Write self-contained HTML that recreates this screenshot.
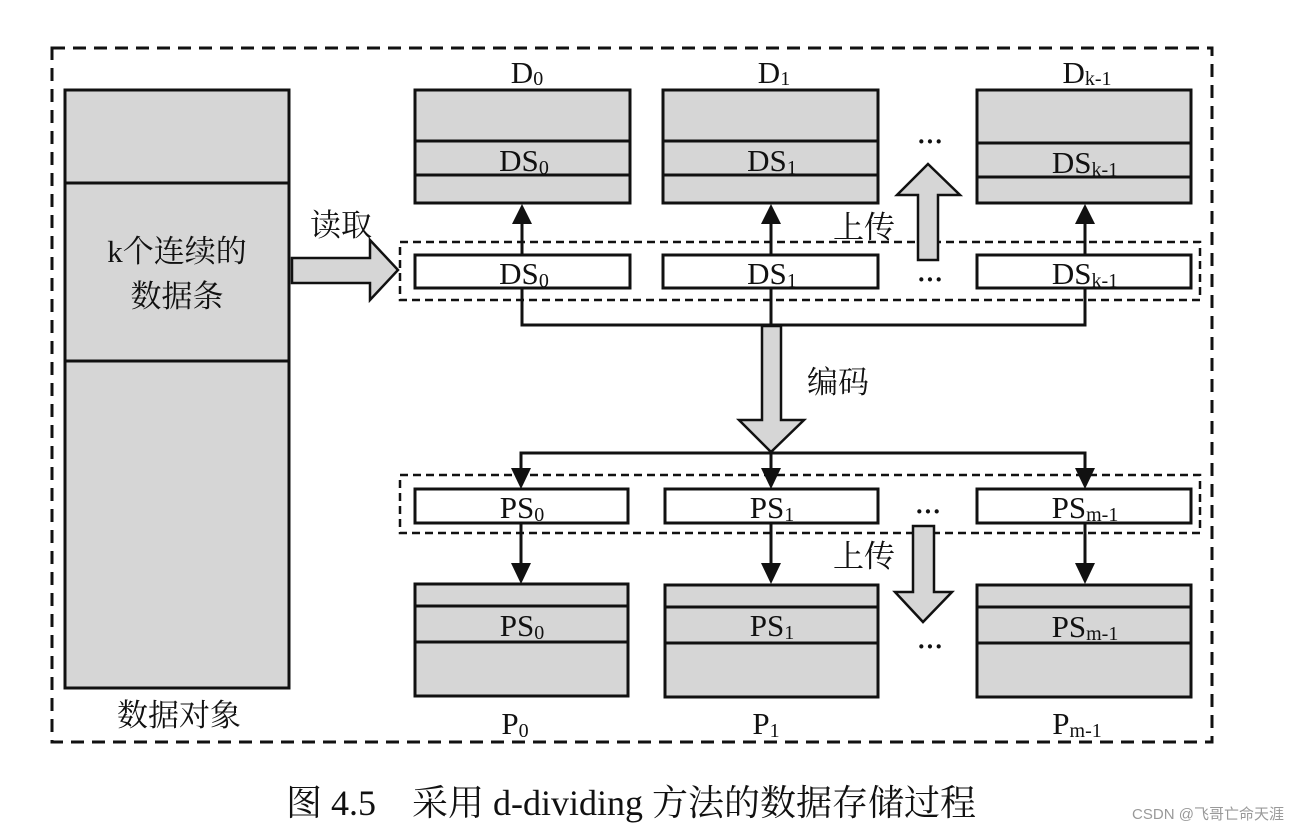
<!DOCTYPE html>
<html><head><meta charset="utf-8"><style>
html,body{margin:0;padding:0;background:#fff;}
svg{display:block;}
text{font-family:"Liberation Serif","Noto Serif CJK SC",serif;fill:#111;}
</style></head><body>
<svg width="1302" height="832" viewBox="0 0 1302 832" xmlns="http://www.w3.org/2000/svg">
<rect x="52" y="48" width="1160" height="694" fill="none" stroke="#111" stroke-width="3" stroke-dasharray="13,8"/>
<rect x="65" y="90" width="224" height="598" fill="#d6d6d6" stroke="#111" stroke-width="3"/>
<line x1="65" y1="183" x2="289" y2="183" stroke="#111" stroke-width="3"/>
<line x1="65" y1="361" x2="289" y2="361" stroke="#111" stroke-width="3"/>
<text x="177" y="262" font-size="31" text-anchor="middle">k个连续的</text>
<text x="177" y="307" font-size="31" text-anchor="middle">数据条</text>
<text x="179" y="726" font-size="31" text-anchor="middle">数据对象</text>
<polygon points="292,258 370,258 370,240 398,270 370,300 370,283 292,283" fill="#d6d6d6" stroke="#111" stroke-width="2.5"/>
<text x="341" y="236" font-size="31" text-anchor="middle">读取</text>
<rect x="400" y="242" width="800" height="58" fill="none" stroke="#111" stroke-width="2.5" stroke-dasharray="8,5"/>
<rect x="400" y="475" width="800" height="58" fill="none" stroke="#111" stroke-width="2.5" stroke-dasharray="8,5"/>
<g stroke="#111" stroke-width="3" fill="#d6d6d6">
<rect x="415" y="90" width="215" height="113"/><line x1="415" y1="141" x2="630" y2="141"/><line x1="415" y1="175" x2="630" y2="175"/>
<rect x="663" y="90" width="215" height="113"/><line x1="663" y1="141" x2="878" y2="141"/><line x1="663" y1="175" x2="878" y2="175"/>
<rect x="977" y="90" width="214" height="113"/><line x1="977" y1="143" x2="1191" y2="143"/><line x1="977" y1="177" x2="1191" y2="177"/>
</g>
<text x="527" y="83" font-size="31" text-anchor="middle">D<tspan font-size="20" dy="2">0</tspan></text>
<text x="774" y="83" font-size="31" text-anchor="middle">D<tspan font-size="20" dy="2">1</tspan></text>
<text x="1087" y="83" font-size="31" text-anchor="middle">D<tspan font-size="20" dy="2">k-1</tspan></text>
<text x="524" y="171" font-size="31" text-anchor="middle">DS<tspan font-size="20" dy="3">0</tspan></text>
<text x="772" y="171" font-size="31" text-anchor="middle">DS<tspan font-size="20" dy="3">1</tspan></text>
<text x="1085" y="173" font-size="31" text-anchor="middle">DS<tspan font-size="20" dy="3">k-1</tspan></text>
<g stroke="#111" stroke-width="3" fill="#fff">
<rect x="415" y="255" width="215" height="33"/>
<rect x="663" y="255" width="215" height="33"/>
<rect x="977" y="255" width="214" height="33"/>
</g>
<text x="524" y="284" font-size="31" text-anchor="middle">DS<tspan font-size="20" dy="3">0</tspan></text>
<text x="772" y="284" font-size="31" text-anchor="middle">DS<tspan font-size="20" dy="3">1</tspan></text>
<text x="1085" y="284" font-size="31" text-anchor="middle">DS<tspan font-size="20" dy="3">k-1</tspan></text>
<g stroke="#111" stroke-width="3">
<line x1="522" y1="255" x2="522" y2="220"/><line x1="771" y1="255" x2="771" y2="220"/><line x1="1085" y1="255" x2="1085" y2="220"/>
</g>
<g fill="#111">
<polygon points="522,204 512,224 532,224"/><polygon points="771,204 761,224 781,224"/><polygon points="1085,204 1075,224 1095,224"/>
</g>
<polyline points="522,288 522,325 1085,325 1085,288" fill="none" stroke="#111" stroke-width="3"/>
<line x1="771" y1="288" x2="771" y2="325" stroke="#111" stroke-width="3"/>
<polygon points="762,326 781,326 781,420 804,420 771,452 739,420 762,420" fill="#d6d6d6" stroke="#111" stroke-width="2.5"/>
<text x="838" y="393" font-size="31" text-anchor="middle">编码</text>
<polyline points="521,470 521,453 1085,453 1085,470" fill="none" stroke="#111" stroke-width="3"/>
<line x1="771" y1="450" x2="771" y2="470" stroke="#111" stroke-width="3"/>
<g fill="#111">
<polygon points="521,489 511,468 531,468"/><polygon points="771,489 761,468 781,468"/><polygon points="1085,489 1075,468 1095,468"/>
</g>
<g stroke="#111" stroke-width="3" fill="#fff">
<rect x="415" y="489" width="213" height="34"/>
<rect x="665" y="489" width="213" height="34"/>
<rect x="977" y="489" width="214" height="34"/>
</g>
<text x="522" y="518" font-size="31" text-anchor="middle">PS<tspan font-size="20" dy="3">0</tspan></text>
<text x="772" y="518" font-size="31" text-anchor="middle">PS<tspan font-size="20" dy="3">1</tspan></text>
<text x="1085" y="518" font-size="31" text-anchor="middle">PS<tspan font-size="20" dy="3">m-1</tspan></text>
<g stroke="#111" stroke-width="3">
<line x1="521" y1="523" x2="521" y2="566"/><line x1="771" y1="523" x2="771" y2="566"/><line x1="1085" y1="523" x2="1085" y2="566"/>
</g>
<g fill="#111">
<polygon points="521,584 511,563 531,563"/><polygon points="771,584 761,563 781,563"/><polygon points="1085,584 1075,563 1095,563"/>
</g>
<g stroke="#111" stroke-width="3" fill="#d6d6d6">
<rect x="415" y="584" width="213" height="112"/><line x1="415" y1="606" x2="628" y2="606"/><line x1="415" y1="642" x2="628" y2="642"/>
<rect x="665" y="585" width="213" height="112"/><line x1="665" y1="607" x2="878" y2="607"/><line x1="665" y1="643" x2="878" y2="643"/>
<rect x="977" y="585" width="214" height="112"/><line x1="977" y1="607" x2="1191" y2="607"/><line x1="977" y1="643" x2="1191" y2="643"/>
</g>
<text x="522" y="636" font-size="31" text-anchor="middle">PS<tspan font-size="20" dy="3">0</tspan></text>
<text x="772" y="636" font-size="31" text-anchor="middle">PS<tspan font-size="20" dy="3">1</tspan></text>
<text x="1085" y="637" font-size="31" text-anchor="middle">PS<tspan font-size="20" dy="3">m-1</tspan></text>
<text x="515" y="734" font-size="31" text-anchor="middle">P<tspan font-size="20" dy="3">0</tspan></text>
<text x="766" y="734" font-size="31" text-anchor="middle">P<tspan font-size="20" dy="3">1</tspan></text>
<text x="1077" y="734" font-size="31" text-anchor="middle">P<tspan font-size="20" dy="3">m-1</tspan></text>
<polygon points="928,164 960,195 938,195 938,260 918,260 918,195 897,195" fill="#d6d6d6" stroke="#111" stroke-width="2.5"/>
<text x="864" y="238" font-size="31" text-anchor="middle">上传</text>
<text x="930" y="150" font-size="26" text-anchor="middle" font-weight="bold">···</text>
<text x="930" y="288" font-size="26" text-anchor="middle" font-weight="bold">···</text>
<polygon points="913,526 934,526 934,592 952,592 923,622 895,592 913,592" fill="#d6d6d6" stroke="#111" stroke-width="2.5"/>
<text x="864" y="567" font-size="31" text-anchor="middle">上传</text>
<text x="928" y="520" font-size="26" text-anchor="middle" font-weight="bold">···</text>
<text x="930" y="655" font-size="26" text-anchor="middle" font-weight="bold">···</text>
<text x="631" y="815" font-size="36" text-anchor="middle">图 4.5　采用 d-dividing 方法的数据存储过程</text>
<text x="1208" y="819" font-size="15" text-anchor="middle" style="font-family:'Liberation Sans','Noto Sans CJK SC',sans-serif;fill:#999">CSDN @飞哥亡命天涯</text>
</svg>
</body></html>
